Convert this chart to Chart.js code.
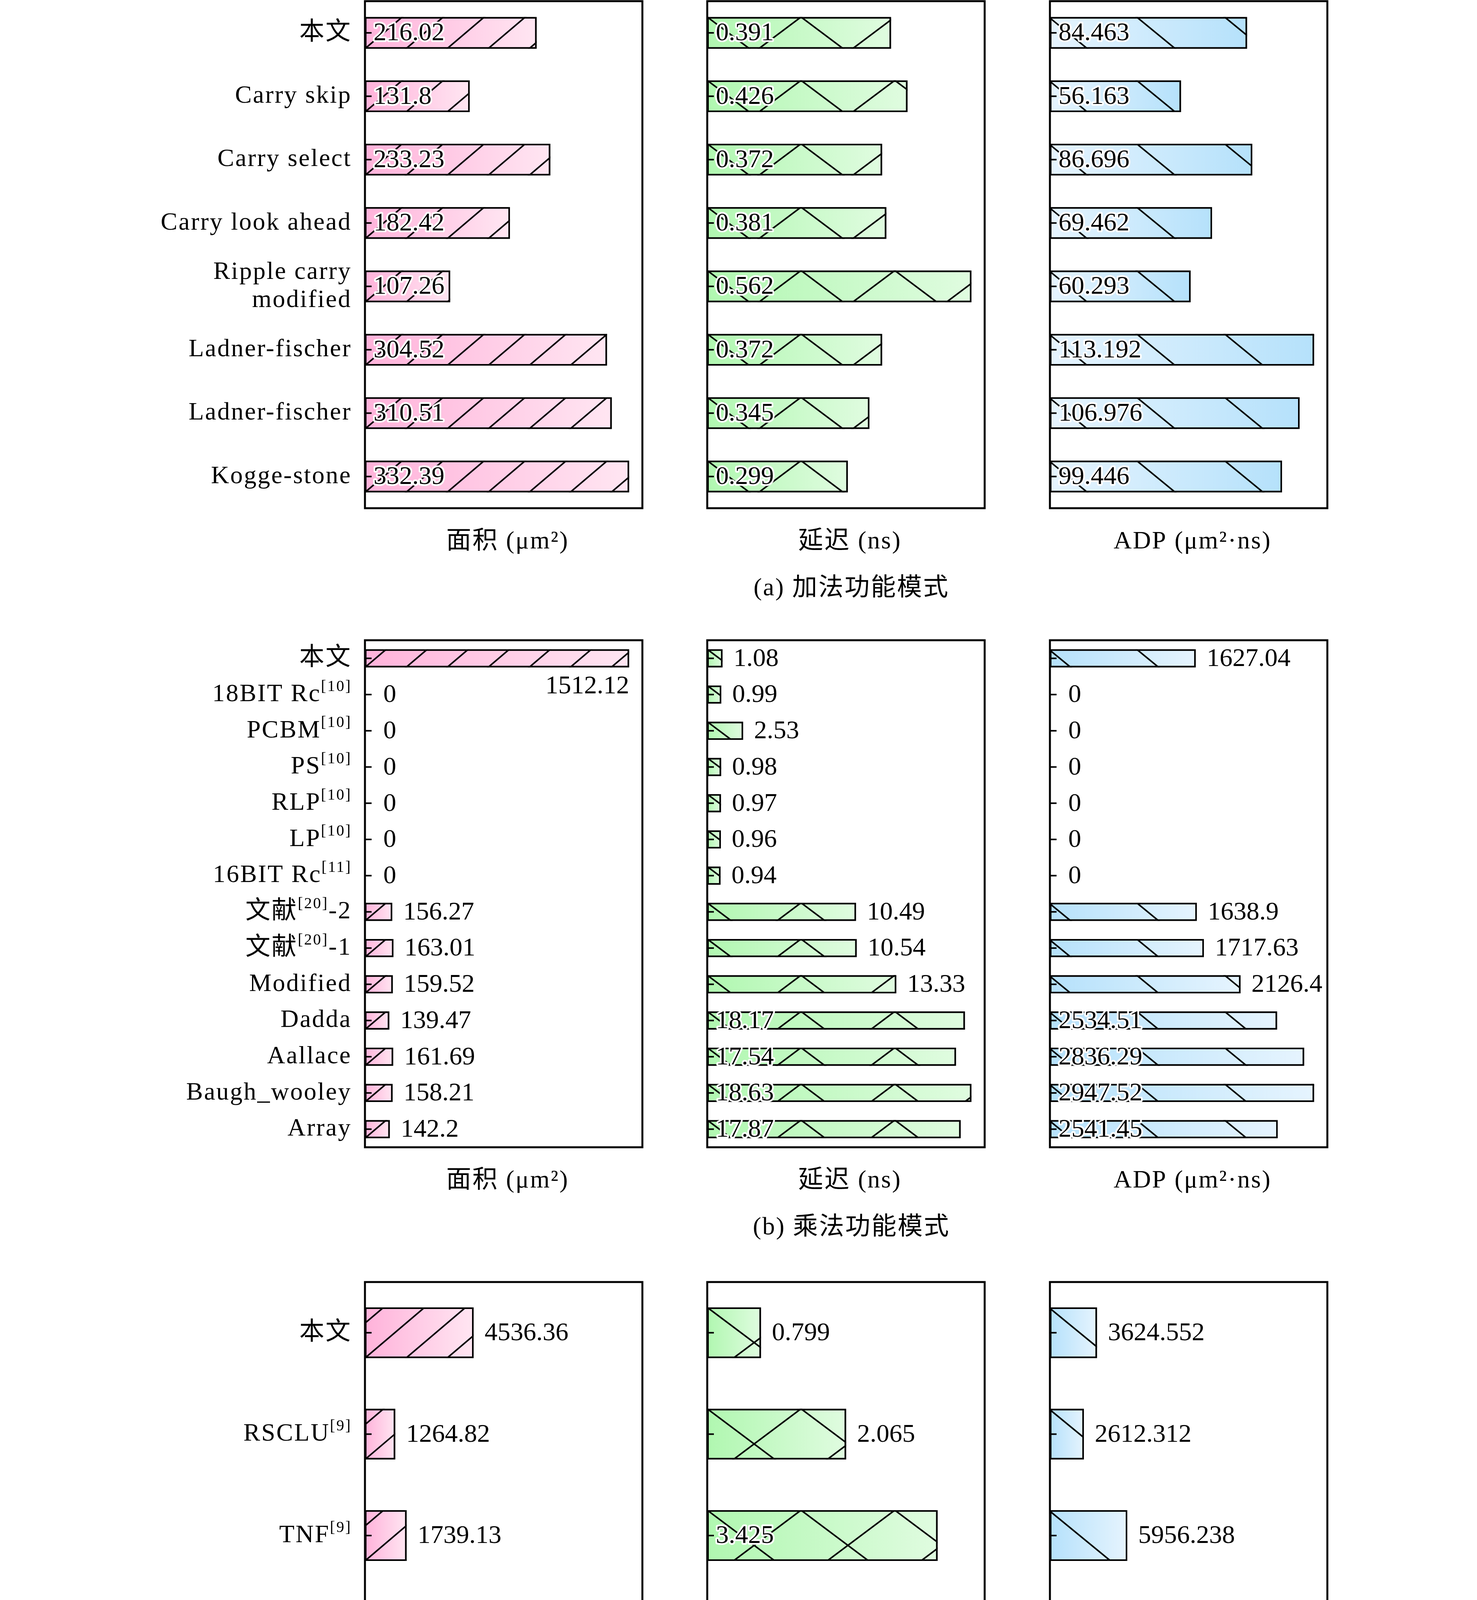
<!DOCTYPE html>
<html>
<head>
<meta charset="utf-8">
<script src="https://cdn.jsdelivr.net/npm/chart.js@4.4.1/dist/chart.umd.min.js"></script>
<style>
  html, body { margin: 0; padding: 0; background: #fff; }
  body { width: 3780px; height: 4819px; position: relative; overflow: hidden; }
  canvas { position: absolute; }
</style>
</head>
<body>
<script>
// ---- data ----
const addCats = ['本文', 'Carry skip', 'Carry select', 'Carry look ahead', ['Ripple carry', 'modified'],
                 'Ladner-fischer', 'Ladner-fischer', 'Kogge-stone'];
const addArea  = [216.02, 131.8, 233.23, 182.42, 107.26, 304.52, 310.51, 332.39];
const addDelay = [0.391, 0.426, 0.372, 0.381, 0.562, 0.372, 0.345, 0.299];
const addAdp   = [84.463, 56.163, 86.696, 69.462, 60.293, 113.192, 106.976, 99.446];

const mulCats = ['本文', '18BIT Rc^[10]', 'PCBM^[10]', 'PS^[10]', 'RLP^[10]', 'LP^[10]', '16BIT Rc^[11]',
                 '文献^[20]-2', '文献^[20]-1', 'Modified', 'Dadda', 'Aallace', 'Baugh_wooley', 'Array'];
const mulArea  = [1512.12, 0, 0, 0, 0, 0, 0, 156.27, 163.01, 159.52, 139.47, 161.69, 158.21, 142.2];
const mulDelay = [1.08, 0.99, 2.53, 0.98, 0.97, 0.96, 0.94, 10.49, 10.54, 13.33, 18.17, 17.54, 18.63, 17.87];
const mulAdp   = [1627.04, 0, 0, 0, 0, 0, 0, 1638.9, 1717.63, 2126.4, 2534.51, 2836.29, 2947.52, 2541.45];

const nlbfCats  = ['本文', 'RSCLU^[9]', 'TNF^[9]', 'RPNF^[9]', 'RNF^[9]'];
const nlbfArea  = [4536.36, 1264.82, 1739.13, 5177.87, 11027.67];
const nlbfDelay = [0.799, 2.065, 3.425, 3.928, 1.745];
const nlbfAdp   = [3624.552, 2612.312, 5956.238, 20339.198, 19244.362];

const axisTitles = ['面积 (μm²)', '延迟 (ns)', 'ADP (μm²·ns)'];
const captions = ['(a) 加法功能模式', '(b) 乘法功能模式', '(c) NLBF功能模式'];

// ---- layout / style ----
const ROW_TOP = [3, 1639, 3282];
const FRAME_H = 1298;
const COL_LEFT = [934, 1810, 2687];
const FRAME_W = 710;
const SERIF = '"Liberation Serif", "Noto Sans CJK SC", serif';
const FS = 66;

const rows = [
  { cats: addCats, series: [addArea, addDelay, addAdp], allInside: true },
  { cats: mulCats, series: [mulArea, mulDelay, mulAdp], allInside: false },
  { cats: nlbfCats, series: [nlbfArea, nlbfDelay, nlbfAdp], allInside: false }
];

const hatches = [
  { lines: [-1], spacing: 105, slope: 0.85, anchor: 'bottom', shift: 0 },   // pink  '/'
  { lines: [1, -1], spacing: 240, slope: 0.75, anchor: 'top', shift: 0 },   // green 'x'
  { lines: [1], spacing: 225, slope: 0.82, anchor: 'top', shift: -3 }       // blue  '\'
];
const gradients = [
  ['#ffb2da', '#ffe6f2'],
  ['#b0f7b0', '#e0fce0'],
  ['#b5e1fb', '#e6f4fe']
];

function drawRich(ctx, text, xRight, y) {
  // text with ^[..] superscripts, right aligned
  const parts = text.split(/\^(\[[^\]]*\])/);
  const big = (FS - 2) + 'px ' + SERIF, small = Math.round(FS * 0.6) + 'px ' + SERIF;
  ctx.letterSpacing = '3px';
  let total = 0;
  parts.forEach((p, i) => { ctx.font = i % 2 ? small : big; total += ctx.measureText(p).width; });
  let x = xRight - total;
  ctx.textAlign = 'left';
  ctx.textBaseline = 'middle';
  parts.forEach((p, i) => {
    ctx.font = i % 2 ? small : big;
    ctx.fillText(p, x, i % 2 ? y - 20 : y);
    x += ctx.measureText(p).width;
  });
  ctx.letterSpacing = '0px';
}

const panelPlugin = {
  id: 'panel',
  afterDatasetsDraw(chart) {
    const o = chart.options.plugins.panel;
    const ctx = chart.ctx;
    const ca = chart.chartArea;
    const xs = chart.scales.x, ys = chart.scales.y;
    const meta = chart.getDatasetMeta(0);
    const data = chart.data.datasets[0].data;
    const vmax = Math.max(...data);
    const hp = hatches[o.col];

    // hatching
    meta.data.forEach(el => {
      const p = el.getProps(['x', 'y', 'base', 'height'], true);
      const l = Math.min(p.x, p.base), r = Math.max(p.x, p.base);
      if (r - l < 2) return;
      const t = p.y - p.height / 2, b = p.y + p.height / 2;
      ctx.save();
      ctx.beginPath();
      ctx.rect(l, t, r - l, b - t);
      ctx.clip();
      ctx.strokeStyle = '#000';
      ctx.lineWidth = 4;
      const ay = hp.anchor === 'top' ? t : b;
      hp.lines.forEach(dir => {
        for (let k = -4; l + k * hp.spacing < r + 4 * hp.spacing; k++) {
          const x0 = l + hp.shift + k * hp.spacing;
          const y1 = t - 20, y2 = b + 20;
          ctx.beginPath();
          ctx.moveTo(x0 + dir * (y1 - ay) / hp.slope, y1);
          ctx.lineTo(x0 + dir * (y2 - ay) / hp.slope, y2);
          ctx.stroke();
        }
      });
      ctx.restore();
      // re-stroke bar outline
      ctx.save();
      ctx.strokeStyle = '#000';
      ctx.lineWidth = 4;
      ctx.strokeRect(l + 2, t + 2, r - l - 4, b - t - 4);
      ctx.restore();
    });

    // frame
    ctx.save();
    ctx.strokeStyle = '#000';
    ctx.lineWidth = 5;
    ctx.strokeRect(ca.left, ca.top, ca.right - ca.left, ca.bottom - ca.top);
    // inward ticks
    ctx.lineWidth = 4;
    chart.data.labels.forEach((lab, i) => {
      const y = ys.getPixelForValue(i);
      ctx.beginPath();
      ctx.moveTo(ca.left, y);
      ctx.lineTo(ca.left + 17, y);
      ctx.stroke();
    });

    // value labels
    const band = ys.getPixelForValue(1) - ys.getPixelForValue(0);
    ctx.font = FS + 'px ' + SERIF;
    ctx.textBaseline = 'middle';
    meta.data.forEach((el, i) => {
      const v = data[i];
      const txt = String(v);
      const x0 = xs.getPixelForValue(0), x1 = xs.getPixelForValue(v);
      const y = el.y + 2;
      const frac = v / vmax;
      let mode;
      if (o.allInside) mode = 'inside';
      else if (o.row === 1 && o.col === 0 && frac === 1) mode = 'below';
      else mode = frac > 0.8 ? 'inside' : 'outside';
      if (mode === 'inside') {
        ctx.textAlign = 'left';
        ctx.lineJoin = 'round';
        ctx.strokeStyle = '#fff';
        ctx.lineWidth = 9;
        ctx.strokeText(txt, x0 + 22, y);
        ctx.fillStyle = '#000';
        ctx.fillText(txt, x0 + 22, y);
      } else if (mode === 'below') {
        ctx.textAlign = 'right';
        ctx.fillStyle = '#000';
        ctx.fillText(txt, x1, y + band * 0.76);
      } else {
        ctx.textAlign = 'left';
        ctx.fillStyle = '#000';
        ctx.fillText(txt, Math.max(x1 + 28, x0 + 47), y);
      }
    });

    // category labels (left column only)
    ctx.fillStyle = '#000';
    if (o.col === 0) {
      chart.data.labels.forEach((lab, i) => {
        const y = ys.getPixelForValue(i);
        if (Array.isArray(lab)) {
          lab.forEach((line, j) => drawRich(ctx, line, ca.left - 34, y + (j - (lab.length - 1) / 2) * 72));
        } else {
          drawRich(ctx, lab, ca.left - 34, y);
        }
      });
    }

    // axis title and caption
    ctx.font = (FS - 2) + 'px ' + SERIF;
    ctx.letterSpacing = '3px';
    ctx.textAlign = 'center';
    ctx.textBaseline = 'middle';
    const cx = (ca.left + ca.right) / 2;
    ctx.fillText(axisTitles[o.col], cx + 10, ca.bottom + 86);
    if (o.col === 1) ctx.fillText(captions[o.row], cx + 14, ca.bottom + 206);
    ctx.letterSpacing = '0px';
    ctx.restore();
  }
};

rows.forEach((row, ri) => {
  row.series.forEach((vals, ci) => {
    const padL = ci === 0 ? COL_LEFT[0] : 60;
    const padR = 90, padT = 4, padB = 262;
    const cv = document.createElement('canvas');
    cv.width = padL + FRAME_W + padR;
    cv.height = padT + FRAME_H + padB;
    cv.style.left = (COL_LEFT[ci] - padL) + 'px';
    cv.style.top = (ROW_TOP[ri] - padT) + 'px';
    cv.style.width = cv.width + 'px';
    cv.style.height = cv.height + 'px';
    document.body.appendChild(cv);

    let cols = gradients[ci];
    if (ri === 0 && ci === 2) cols = [cols[1], cols[0]];
    const vmax = Math.max(...vals);

    new Chart(cv.getContext('2d'), {
      type: 'bar',
      data: {
        labels: row.cats,
        datasets: [{
          data: vals,
          backgroundColor: function (c) {
            const chart = c.chart;
            if (!chart.chartArea || c.type !== 'data') return cols[0];
            const xs = chart.scales.x;
            const a = xs.getPixelForValue(0), b = xs.getPixelForValue(c.raw);
            if (b - a < 2) return cols[0];
            const g = chart.ctx.createLinearGradient(a, 0, b, 0);
            g.addColorStop(0, cols[0]);
            g.addColorStop(1, cols[1]);
            return g;
          },
          borderColor: '#000',
          borderWidth: c => (c.raw === 0 ? 0 : 4),
          borderSkipped: false,
          barPercentage: 0.5,
          categoryPercentage: 1
        }]
      },
      options: {
        indexAxis: 'y',
        responsive: false,
        animation: false,
        devicePixelRatio: 1,
        layout: { padding: { left: padL, right: padR, top: padT, bottom: padB } },
        scales: {
          x: { display: false, min: 0, max: vmax * 1.05 },
          y: { display: false, offset: true }
        },
        plugins: {
          legend: { display: false },
          tooltip: { enabled: false },
          panel: { row: ri, col: ci, allInside: row.allInside }
        }
      },
      plugins: [panelPlugin]
    });
  });
});
</script>
</body>
</html>
